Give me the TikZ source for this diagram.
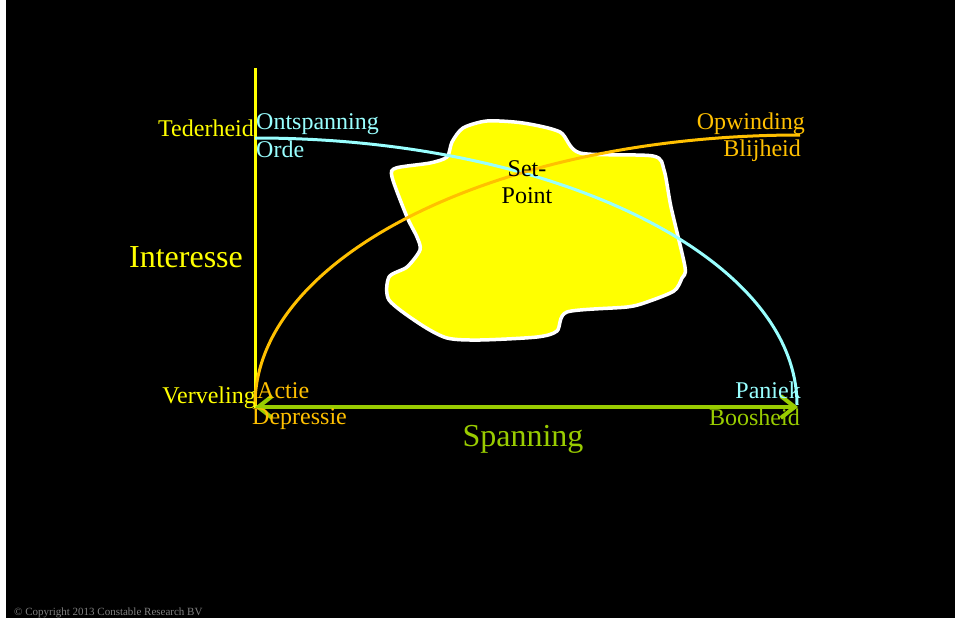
\documentclass[tikz,border=0pt]{standalone}
\usepackage{fontspec}
\setmainfont{Liberation Serif}
\usetikzlibrary{arrows.meta}
\definecolor{sheet}{HTML}{000000}
\definecolor{axisyel}{HTML}{FFFF00}
\definecolor{calm}{HTML}{99FFFF}
\definecolor{drive}{HTML}{FFC000}
\definecolor{tension}{HTML}{99CC00}
\definecolor{fineprint}{HTML}{808080}

\begin{document}
\begin{tikzpicture}[x=1pt,y=-1pt,
  lbl/.style={inner sep=0pt,font=\fontsize{24}{27}\selectfont},
  big/.style={inner sep=0pt,font=\fontsize{32}{36}\selectfont},
  curve/.style={line width=3pt},
  twoway/.style={{Straight Barb[length=14pt,width=22pt]}-{Straight Barb[length=14pt,width=22pt]},
    line width=4pt,draw=tension}]

% slide: white strip on the left, black sheet
\useasboundingbox (0,0) rectangle (955,618);
\fill[white] (0,0) rectangle (955,618);
\fill[sheet] (6,0) rectangle (955,618);

% the set-point blob, behind everything else
\filldraw[fill=axisyel,draw=white,line width=3.5pt]
  plot[smooth cycle,tension=.45] coordinates {
  (487,121) (523,123) (560,132) (580,153) (653,156) (664,170) (671,207)
  (685,267) (682,278) (674,291) (647,302) (627,307) (567,312) (557,331)
  (537,337) (480,340) (447,338) (420,324) (389,300) (389,277) (407,267)
  (420,250) (417,237) (407,217) (392,177) (396,168) (430,163) (447,157)
  (452,142) (463,128)};

% axes
\coordinate (top) at (255,68);
\coordinate (origin) at (255,407);
\coordinate (right) at (798,407);
\draw[axisyel,line width=3pt] (top)--(255,408);
\draw[twoway] (origin)--(right);

% the two quarter ellipses
\coordinate (calmstart) at (255,138);
\coordinate (drivestart) at (255,405);
\draw[curve,calm] (calmstart) arc[start angle=-90,end angle=0,x radius=542,y radius=267];
\draw[curve,drive] (drivestart) arc[start angle=180,end angle=270,x radius=545,y radius=270];

\node[lbl,align=center,anchor=base] (setpoint) at (527,203) {Set-\\Point};

% corner labels
\node[lbl,text=axisyel,anchor=base east] (tederheid) at (254,136) {Tederheid};
\node[lbl,text=calm,anchor=base west] (ontspanning) at (256,129) {Ontspanning};
\node[lbl,text=calm,anchor=base west] (orde) at (256,157) {Orde};
\node[lbl,text=drive,anchor=base east] (opwinding) at (805,129) {Opwinding};
\node[lbl,text=drive,anchor=base east] (blijheid) at (801,156) {Blijheid};
\node[lbl,text=axisyel,anchor=base east] (verveling) at (256,403) {Verveling};
\node[lbl,text=drive,anchor=base west] (actie) at (257,398) {Actie};
\node[lbl,text=drive,anchor=base west] (depressie) at (252,424) {Depressie};
\node[lbl,text=calm,anchor=base east] (paniek) at (801,398) {Paniek};
\node[lbl,text=tension,anchor=base east] (boosheid) at (800,425) {Boosheid};

% axis titles
\node[big,text=axisyel,anchor=base] (interesse) at (186,267) {Interesse};
\node[big,text=tension,anchor=base] (spanning) at (523,446) {Spanning};

\node[inner sep=0pt,anchor=base west,text=fineprint,font=\fontsize{11}{13}\selectfont]
  (copyright) at (14,615) {\textcopyright{} Copyright 2013 Constable Research BV};
\end{tikzpicture}
\end{document}
